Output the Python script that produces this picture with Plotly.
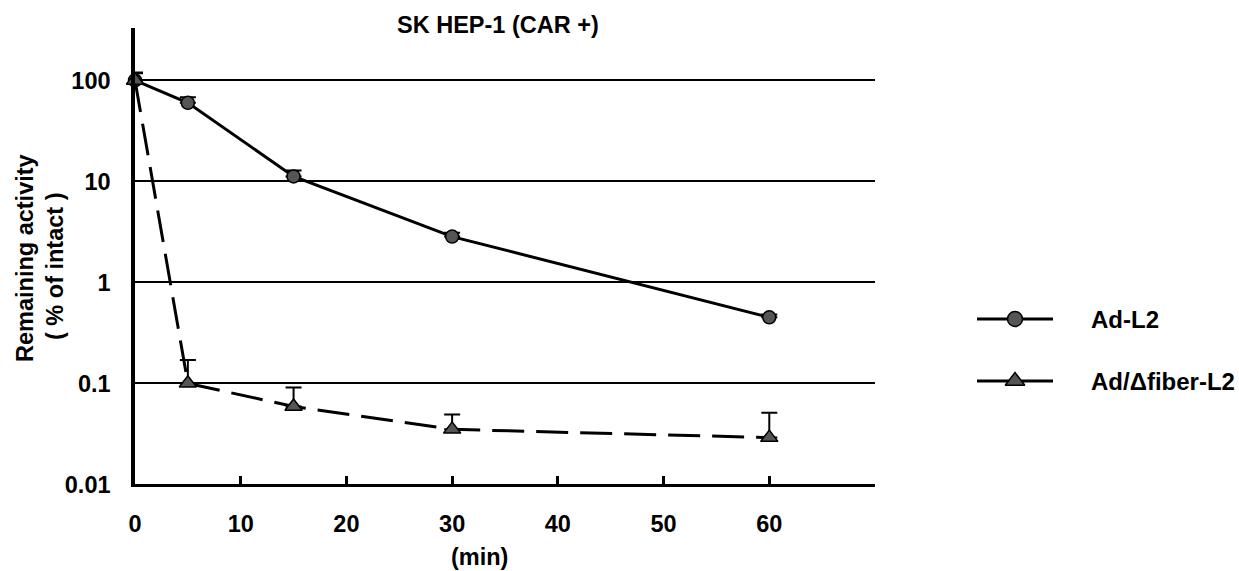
import plotly.graph_objects as go

# ---- data ----
minutes = [0, 5, 15, 30, 60]
ad_l2 = [100, 60, 11.2, 2.84, 0.45]
ad_l2_err_top = [120, 68, 12.8, 3.1, 0.48]
ad_fiber = [100, 0.1, 0.059, 0.035, 0.029]
ad_fiber_err_top = [118, 0.17, 0.091, 0.049, 0.051]
x_ticks = [0, 10, 20, 30, 40, 50, 60]
y_ticks = [0.01, 0.1, 1, 10, 100]
y_tick_labels = ["0.01", "0.1", "1", "10", "100"]
series_names = ["Ad-L2", "Ad/\u0394fiber-L2"]

W, H = 1239, 571
FONT = "Liberation Sans"
FS = 23.5

def px(x):
    return x / W

def py(y):
    return 1 - y / H

# plot area in reference pixels
PL, PR, PT, PB = 135, 875, 28, 484.3

fig = go.Figure()

def up_err(vals, tops):
    return [t - v for v, t in zip(vals, tops)]

fig.add_trace(go.Scatter(
    x=minutes, y=ad_l2, mode="lines+markers", name=series_names[0],
    line=dict(color="black", width=3),
    marker=dict(symbol="circle", size=13, color="#555555",
                line=dict(color="black", width=1.5)),
    error_y=dict(type="data", symmetric=False,
                 array=up_err(ad_l2, ad_l2_err_top),
                 arrayminus=[0] * len(minutes),
                 color="black", thickness=2, width=8),
    cliponaxis=False, showlegend=False))

fig.add_trace(go.Scatter(
    x=minutes, y=ad_fiber, mode="lines+markers", name=series_names[1],
    line=dict(color="black", width=3, dash="32px,12px"),
    marker=dict(symbol="triangle-up", size=15, color="#555555",
                line=dict(color="black", width=1.5)),
    error_y=dict(type="data", symmetric=False,
                 array=up_err(ad_fiber, ad_fiber_err_top),
                 arrayminus=[0] * len(minutes),
                 color="black", thickness=2, width=8),
    cliponaxis=False, showlegend=False))

# ---- manual legend on its own small axis ----
leg_y = [319, 381]
leg_symbols = ["circle", "triangle-up"]
leg_sizes = [15, 17]
for yy, sym, sz in zip(leg_y, leg_symbols, leg_sizes):
    fig.add_trace(go.Scatter(
        x=[0, 0.5, 1], y=[yy, yy, yy], mode="lines", xaxis="x2", yaxis="y2",
        line=dict(color="black", width=3), showlegend=False, hoverinfo="skip"))
    fig.add_trace(go.Scatter(
        x=[0.5], y=[yy], mode="markers", xaxis="x2", yaxis="y2",
        marker=dict(symbol=sym, size=sz, color="#555555",
                    line=dict(color="black", width=1.5)),
        showlegend=False, hoverinfo="skip"))

annotations = []
for yy, nm in zip(leg_y, series_names):
    annotations.append(dict(
        text=nm, x=px(1089), y=py(yy), xref="paper", yref="paper",
        xanchor="left", yanchor="middle", showarrow=False,
        font=dict(family=FONT, size=24, color="black", weight="bold")))

# title
annotations.append(dict(
    text="SK HEP-1 (CAR +)", x=px(498), y=py(25), xref="paper", yref="paper",
    xanchor="center", yanchor="middle", showarrow=False,
    font=dict(family=FONT, size=FS, color="black", weight="bold")))
# x title
annotations.append(dict(
    text="(min)", x=px(479), y=py(557), xref="paper", yref="paper",
    xanchor="center", yanchor="middle", showarrow=False,
    font=dict(family=FONT, size=FS, color="black", weight="bold")))
# y title (two lines)
annotations.append(dict(
    text="Remaining activity", x=px(25), y=py(258), xref="paper", yref="paper",
    xanchor="center", yanchor="middle", showarrow=False, textangle=-90,
    font=dict(family=FONT, size=FS, color="black", weight="bold")))
annotations.append(dict(
    text="( % of intact )", x=px(55), y=py(266), xref="paper", yref="paper",
    xanchor="center", yanchor="middle", showarrow=False, textangle=-90,
    font=dict(family=FONT, size=FS, color="black", weight="bold")))

fig.update_layout(
    width=W, height=H,
    margin=dict(l=0, r=0, t=0, b=0),
    paper_bgcolor="white", plot_bgcolor="white",
    template="none",
    annotations=annotations,
    xaxis=dict(
        domain=[px(PL), px(PR)], range=[0, 70],
        tickvals=x_ticks, ticktext=[str(v) for v in x_ticks],
        ticks="inside", ticklen=8, tickwidth=3, tickcolor="black",
        showline=True, linecolor="black", linewidth=3,
        showgrid=False, zeroline=False, automargin=False,
        ticklabelstandoff=16,
        tickfont=dict(family=FONT, size=FS, color="black", weight="bold")),
    yaxis=dict(
        domain=[py(PB), py(PT)], type="log", range=[-2, 2.519],
        tickvals=y_ticks, ticktext=y_tick_labels,
        ticks="", showline=True, linecolor="black", linewidth=3.5,
        showgrid=True, gridcolor="black", gridwidth=2,
        zeroline=False, automargin=False,
        ticklabelstandoff=16,
        tickfont=dict(family=FONT, size=FS, color="black", weight="bold")),
    xaxis2=dict(domain=[px(977), px(1053)], range=[0, 1], visible=False,
                fixedrange=True),
    yaxis2=dict(domain=[py(420), py(280)], range=[420, 280],
                visible=False, fixedrange=True),
)

fig.write_html(
    "out.html",
    config={"displayModeBar": False},
    post_script="document.body.style.margin='0';document.body.style.overflow='hidden';",
)
